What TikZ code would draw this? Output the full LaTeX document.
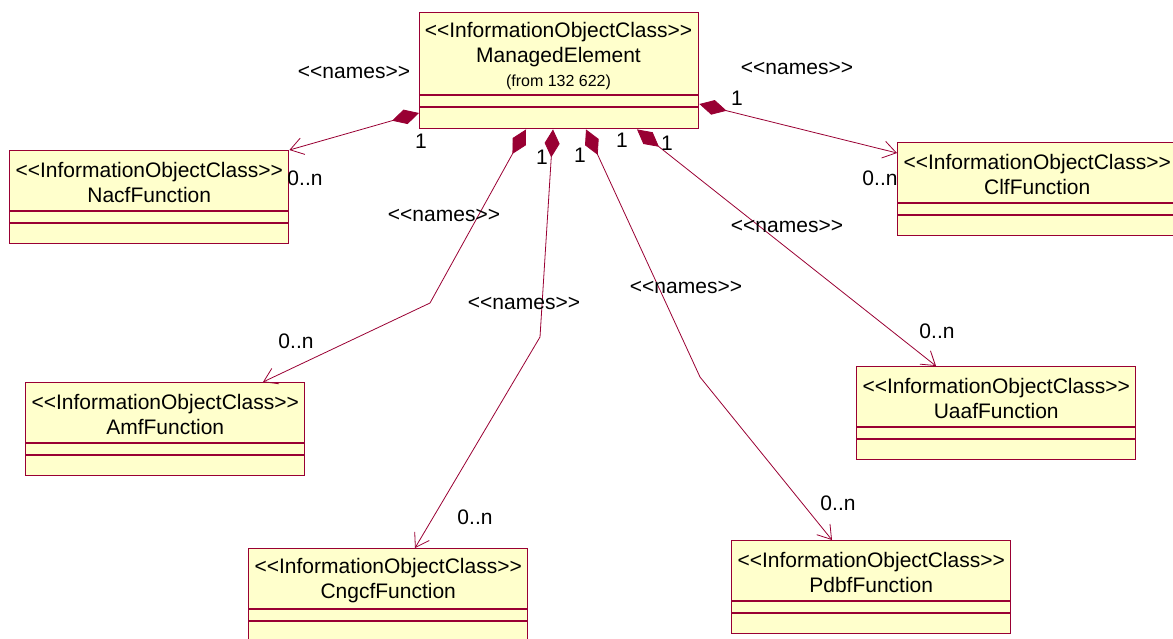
\documentclass[tikz,border=0pt]{standalone}
\usepackage{fontspec}
\setmainfont{Liberation Sans}
\usetikzlibrary{calc, arrows.meta}
\definecolor{umlred}{RGB}{153,0,51}
\definecolor{umlfill}{RGB}{255,255,204}
\newcommand{\ster}[1]{<\kern0pt<#1>\kern0pt>}
\tikzset{
  cls/.style={draw=umlred, line width=1.4pt, fill=umlfill, anchor=north west,
    minimum width=279pt, minimum height=93pt, inner sep=0pt},
  cmp/.style={draw=umlred, line width=1.1pt},
  ttl/.style={align=center, inner sep=0pt, font=\fontsize{21}{25}\selectfont},
  lbl/.style={inner sep=0pt, font=\fontsize{21}{25}\selectfont},
  assoc/.style={draw=umlred, line width=0.8pt,
    arrows={Diamond[length=28pt,width=15pt]-Straight Barb[length=13pt,width=17pt]}}
}
\begin{document}
\begin{tikzpicture}[x=1pt, y=-1pt]
  \clip (0,0) rectangle (1173,638);
  % ManagedElement
  \node[cls, minimum height=116pt] (me) at (419,12) {};
  \node[lbl] (me-s) at (558.5,32) {\ster{InformationObjectClass}};
  \node[lbl] (me-n) at (558.5,57) {ManagedElement};
  \node[lbl, font=\fontsize{16}{19}\selectfont] (me-f) at (558.5,82) {(from 132 622)};
  \draw[cmp] ($(me.north west)+(0,83)$) -- ($(me.north east)+(0,83)$);
  \draw[cmp] ($(me.north west)+(0,95)$) -- ($(me.north east)+(0,95)$);
  % Function classes
  \foreach \n/\x/\y/\t in {nacf/9/150/NacfFunction, clf/897/142/ClfFunction,
      amf/25/382/AmfFunction, uaaf/856/366/UaafFunction,
      cngcf/248/548/CngcfFunction, pdbf/731/540/PdbfFunction}{
    \node[cls] (\n) at (\x,\y) {};
    \node[ttl] (\n-t) at ($(\n.north)+(0,32.5)$) {\ster{InformationObjectClass}\\\t};
    \draw[cmp] ($(\n.north west)+(0,61)$) -- ($(\n.north east)+(0,61)$);
    \draw[cmp] ($(\n.north west)+(0,73)$) -- ($(\n.north east)+(0,73)$);
  }
  % bends
  \coordinate (b-amf) at (430,303);
  \coordinate (b-cngcf) at (540,337);
  \coordinate (b-pdbf) at (700,377);
  % associations
  \draw[assoc] ($(me.north west)+(0,101)$) -- (nacf.north east);
  \draw[assoc] ($(me.north east)+(0,92)$) -- ($(clf.north west)+(0,11)$);
  \draw[assoc] ($(me.south west)+(107,0)$) -- (b-amf) -- ($(amf.north west)+(238,0)$);
  \draw[assoc] ($(me.south west)+(134,0)$) -- (b-cngcf) -- ($(cngcf.north west)+(167,0)$);
  \draw[assoc] ($(me.south west)+(167,0)$) -- (b-pdbf) -- ($(pdbf.north west)+(101,0)$);
  \draw[assoc] ($(me.south west)+(218,0)$) -- ($(uaaf.north west)+(80,0)$);
  % role names
  \node[lbl] (nm-nacf) at (354,72) {\ster{names}};
  \node[lbl] (nm-clf) at (797,68) {\ster{names}};
  \node[lbl] (nm-amf) at (444,215) {\ster{names}};
  \node[lbl] (nm-cngcf) at (524,303) {\ster{names}};
  \node[lbl] (nm-pdbf) at (686,287) {\ster{names}};
  \node[lbl] (nm-uaaf) at (787,226) {\ster{names}};
  % multiplicities
  \node[lbl] (one-nacf) at (421,141) {1};
  \node[lbl] (one-amf) at (542,157) {1};
  \node[lbl] (one-cngcf) at (580,155) {1};
  \node[lbl] (one-pdbf) at (622,140) {1};
  \node[lbl] (one-uaaf) at (667,143) {1};
  \node[lbl] (one-clf) at (737,98) {1};
  \node[lbl] (n-nacf) at (305,178) {0..n};
  \node[lbl] (n-clf) at (880,178) {0..n};
  \node[lbl] (n-amf) at (296,341) {0..n};
  \node[lbl] (n-cngcf) at (475,517) {0..n};
  \node[lbl] (n-uaaf) at (937,331) {0..n};
  \node[lbl] (n-pdbf) at (838,503) {0..n};
\end{tikzpicture}
\end{document}
